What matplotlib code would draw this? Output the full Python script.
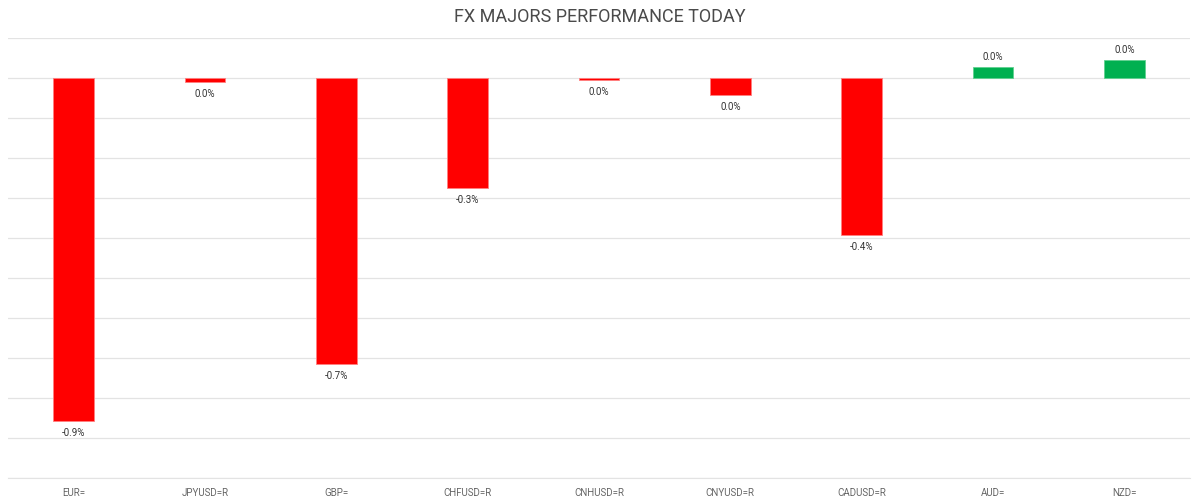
import matplotlib.pyplot as plt
import numpy as np

# datos
pares = ["EUR=", "JPYUSD=R", "GBP=", "CHFUSD=R", "CNHUSD=R",
         "CNYUSD=R", "CADUSD=R", "AUD=", "NZD="]
variacion = [-0.857, -0.010, -0.715, -0.275, -0.005, -0.042, -0.392, 0.027, 0.044]
etiquetas = ["-0.9%", "0.0%", "-0.7%", "-0.3%", "0.0%", "0.0%", "-0.4%", "0.0%", "0.0%"]

plt.rcParams["font.family"] = ["Roboto", "DejaVu Sans"]

fig = plt.figure(figsize=(12, 5.03), dpi=100)
ax = fig.add_axes([8 / 1200, 1 - 478 / 503, 1182 / 1200, 440 / 503])

x = np.arange(len(pares))
colores = ["#00B050" if v > 0 else "#FF0000" for v in variacion]
bordes = ["#60d090" if v > 0 else "#ff8080" for v in variacion]
ax.bar(x, variacion, width=0.31, color=colores, edgecolor=bordes,
       linewidth=0.6, zorder=3)

for xi, v, t in zip(x, variacion, etiquetas):
    if v < 0:
        ax.annotate(t, (xi, v), xytext=(0, -5), textcoords="offset points",
                    ha="center", va="top", fontsize=7, color="#333333")
    else:
        ax.annotate(t, (xi, v), xytext=(0, 4), textcoords="offset points",
                    ha="center", va="bottom", fontsize=7, color="#333333")

ax.set_xlim(-0.5, len(pares) - 0.5)
ax.set_ylim(-1.0, 0.1)
ax.set_yticks(np.arange(-1.0, 0.11, 0.1))
ax.set_yticklabels([])
ax.tick_params(axis="y", length=0)
ax.grid(axis="y", color="#e3e3e3", linewidth=0.9, zorder=0)

ax.set_xticks(x)
ax.set_xticklabels(pares, fontsize=7, color="#666666")
ax.tick_params(axis="x", length=0, pad=7)

for lado in ["top", "right", "left"]:
    ax.spines[lado].set_visible(False)
ax.spines["bottom"].set_color("#e3e3e3")

fig.text(0.5, 1 - 17 / 503, "FX MAJORS PERFORMANCE TODAY", ha="center",
         va="center", fontsize=13, color="#4a4a4a")

fig.savefig("out.png", dpi=100)
